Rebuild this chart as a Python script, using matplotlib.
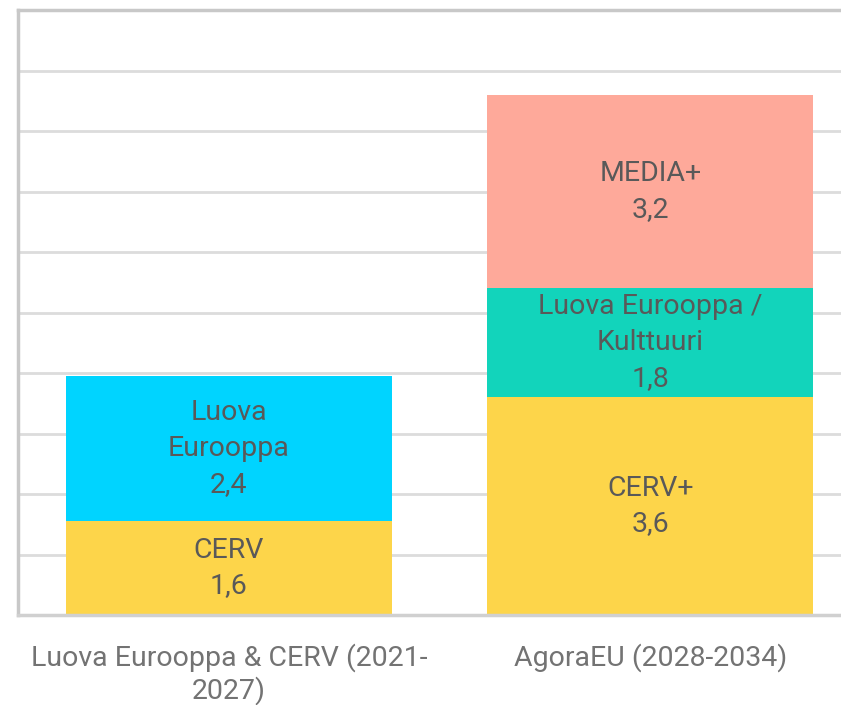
import numpy as np
import matplotlib
matplotlib.use('Agg')
import matplotlib.pyplot as plt

# data
categories = ['Luova Eurooppa & CERV (2021-\n2027)', 'AgoraEU (2028-2034)']
bottom_names = ['CERV', 'CERV+']
bottom_vals = [1.55, 3.6]
mid_names = ['Luova\nEurooppa', 'Luova Eurooppa /\nKulttuuri']
mid_vals = [2.4, 1.8]
top_names = [None, 'MEDIA+']
top_vals = [0.0, 3.2]

col_bottom = '#FDD54A'
col_mid = ['#00D4FF', '#12D4BB']
col_top = '#FEA99A'
txt_col = '#595959'

plt.rcParams['font.family'] = ['Roboto', 'DejaVu Sans']

fig = plt.figure(figsize=(8.41, 7.05), dpi=100)
ax = fig.add_axes([18/841, 1-615/705, 843/841, 605/705])

x = np.arange(len(categories))
w = 0.773
fs = 20.5

def fmt(v):
    return ('%.1f' % v).replace('.', ',')

b0 = np.array(bottom_vals)
b1 = b0 + np.array(mid_vals)

ax.bar(x, bottom_vals, w, color=col_bottom, zorder=2)
ax.bar(x, mid_vals, w, bottom=b0, color=col_mid, zorder=2)
ax.bar(x, top_vals, w, bottom=b1, color=col_top, zorder=2)

for i in range(len(x)):
    ax.text(x[i], bottom_vals[i]/2, bottom_names[i] + '\n' + fmt(bottom_vals[i]),
            ha='center', va='center', fontsize=fs, color=txt_col, linespacing=1.42, zorder=3)
    ax.text(x[i], b0[i] + mid_vals[i]/2, mid_names[i] + '\n' + fmt(mid_vals[i]),
            ha='center', va='center', fontsize=fs, color=txt_col, linespacing=1.42, zorder=3)
    if top_names[i] is not None:
        ax.text(x[i], b1[i] + top_vals[i]/2, top_names[i] + '\n' + fmt(top_vals[i]),
                ha='center', va='center', fontsize=fs, color=txt_col, linespacing=1.42, zorder=3)

ax.set_xlim(-0.5, 1.5)
ax.set_ylim(0, 10)
ax.set_yticks(np.arange(0, 11, 1))
ax.set_yticklabels([])
ax.tick_params(axis='y', length=0)
ax.tick_params(axis='x', length=0, pad=20)
ax.set_xticks(x)
ax.set_xticklabels(categories, fontsize=20.5, color='#737373', linespacing=1.2)
ax.grid(axis='y', color='#dcdcdc', linewidth=2, zorder=0)

for s in ['left', 'top']:
    ax.spines[s].set_color('#c8c8c8')
    ax.spines[s].set_linewidth(2.5)
ax.spines['bottom'].set_color('#d0d0d0')
ax.spines['bottom'].set_linewidth(2.5)
ax.spines['right'].set_visible(False)

fig.savefig('out.png', dpi=100)
